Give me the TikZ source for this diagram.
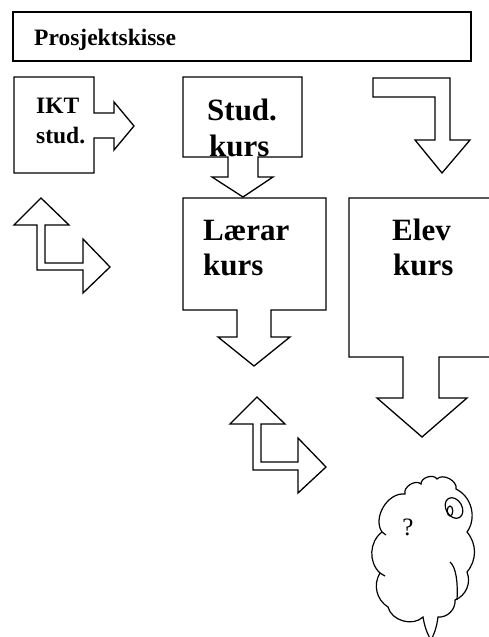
\documentclass[tikz,border=0pt]{standalone}
\usepackage{fontspec}
\setmainfont{Liberation Serif}
\begin{document}
\begin{tikzpicture}[x=1pt,y=-1pt,
  blk/.style={draw=black,line width=1.3pt,line join=miter,fill=white},
  big/.style={font=\bfseries\fontsize{31}{35}\selectfont,anchor=base west,inner sep=0pt},
  mid/.style={font=\bfseries\fontsize{23.5}{28}\selectfont,anchor=base west,inner sep=0pt},
  cloudline/.style={draw=black,line width=1.2pt}]
\useasboundingbox (0,0) rectangle (489,637);
% title
\draw[blk] (13,12) rectangle (471,61);
\node[mid] (title) at (34,45) {Prosjektskisse};
% IKT stud. box with right arrow
\draw[blk] (14,77) -- (94,77) -- (94,113) -- (114,113) -- (114,102) -- (134,126) -- (114,150) -- (114,138) -- (94,138) -- (94,173) -- (14,173) -- cycle;
\node[mid] (ikt) at (36,113) {IKT};
\node[mid] (stud) at (36,143) {stud.};
% Stud. kurs box with down arrow
\draw[blk] (183,77) -- (302,77) -- (302,157) -- (258,157) -- (258,177) -- (273,177) -- (243,197) -- (212,177) -- (228,177) -- (228,157) -- (183,157) -- cycle;
\node[big] (studk1) at (207,120) {Stud.};
\node[big] (studk2) at (209,156) {kurs};
% Laerar kurs box with down arrow
\draw[blk] (183,198) -- (326,198) -- (326,310) -- (271,310) -- (271,337) -- (290,337) -- (254,366) -- (218,337) -- (237,337) -- (237,310) -- (183,310) -- cycle;
\node[big] (lk1) at (203,240) {Lærar};
\node[big] (lk2) at (203,275) {kurs};
% Elev kurs box with down arrow
\draw[blk] (495,198) -- (349,198) -- (349,357) -- (403,357) -- (403,398) -- (377,398) -- (422,437) -- (467,398) -- (439,398) -- (439,357) -- (495,357) -- cycle;
\node[big] (ek1) at (392,240) {Elev};
\node[big] (ek2) at (393,275) {kurs};
% bent arrow top right
\draw[blk] (373,78) -- (450,78) -- (450,140) -- (470,140) -- (442,173) -- (415,140) -- (435,140) -- (435,97) -- (373,97) -- cycle;
% left double arrow
\draw[blk] (41,198) -- (69,225) -- (45,225) -- (45,263) -- (83,263) -- (83,239) -- (110,267) -- (83,293) -- (83,270) -- (37,270) -- (37,225) -- (14,225) -- cycle;
% lower double arrow
\draw[blk] (257,397) -- (285,424) -- (261,424) -- (261,462) -- (298,462) -- (298,438) -- (326,467) -- (298,493) -- (298,470) -- (253,470) -- (253,424) -- (230,424) -- cycle;
% cloud
\draw[cloudline]
  (432,642) to[bend left=10] (423,617)
  to[bend left=60] (388,607)
  to[bend left=45] (380,573)
  to[bend left=50] (382,532)
  to[bend left=65] (405,494)
  to[bend left=75] (421,484)
  to[bend left=75] (437,479)
  to[bend left=75] (456,489)
  to[bend left=50] (467,532)
  to[bend left=40] (467,572)
  to[bend left=45] (455,600)
  to[bend left=50] (438,617)
  to[bend left=10] (430,642);
\draw[cloudline] (450,562) .. controls (456,567) and (458,582) .. (457,600);
\draw[cloudline] (380,573) .. controls (382,574) .. (385,576);
\draw[cloudline] (382,532) .. controls (384,533) .. (386,535);
\draw[cloudline] (454,508) ellipse[x radius=8,y radius=11,rotate=30];
\draw[cloudline] (450,511) ellipse[x radius=2.8,y radius=5];
\node[font=\fontsize{25}{28}\selectfont,inner sep=0pt] (q) at (408,527) {?};
\end{tikzpicture}
\end{document}
